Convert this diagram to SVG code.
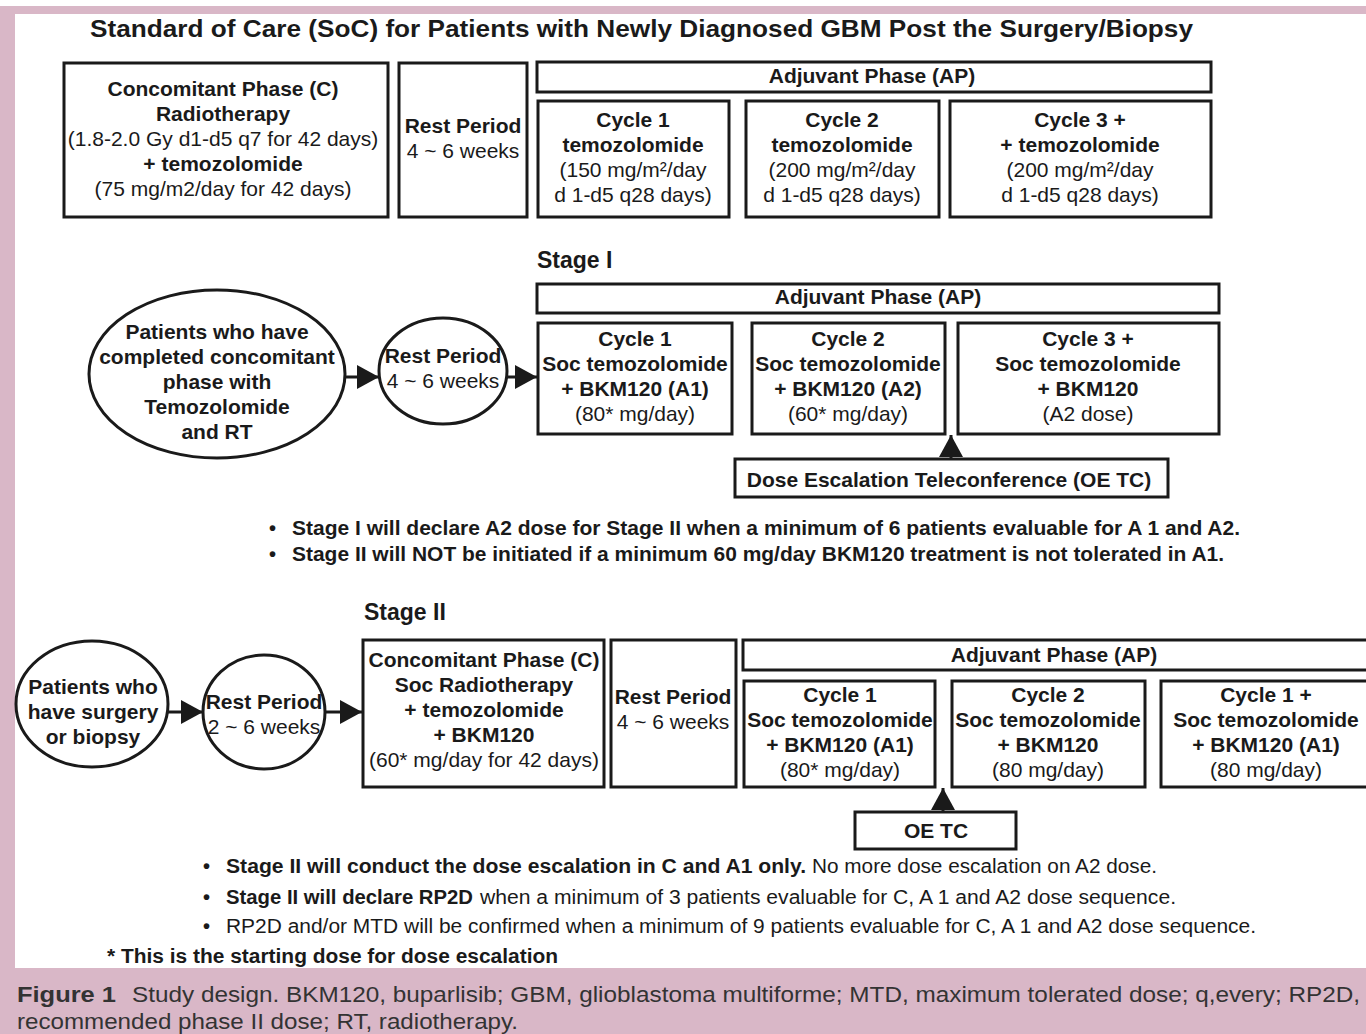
<svg xmlns="http://www.w3.org/2000/svg" width="1366" height="1034" viewBox="0 0 1366 1034">
<style>
text{font-family:"Liberation Sans",Arial,sans-serif;fill:#1a1a1a}
.b{font-weight:bold;font-size:21px;text-anchor:middle}
.r{font-size:21px;text-anchor:middle}
.box{fill:#fff;stroke:#1a1a1a;stroke-width:3}
.ell{fill:#fff;stroke:#1a1a1a;stroke-width:3}
.con{stroke:#1a1a1a;stroke-width:3;fill:none}
.bl{font-weight:bold;font-size:20px}
.rl{font-size:20px}
.cap{font-size:22px;fill:#333}
</style>
<defs>
<marker id="ah" viewBox="0 0 22 24" refX="22" refY="12" markerWidth="22" markerHeight="24" markerUnits="userSpaceOnUse" orient="auto">
<path d="M0,0 L22,12 L0,24 z" fill="#1a1a1a"/>
</marker>
</defs>
<rect x="0" y="0" width="1366" height="1034" fill="#d9b7c7"/>
<rect x="0" y="0" width="1366" height="6" fill="#fff"/>
<rect x="15" y="14" width="1351" height="954" fill="#fff"/>

<text x="90" y="37" font-weight="bold" font-size="24" textLength="1103" lengthAdjust="spacingAndGlyphs">Standard of Care (SoC) for Patients with Newly Diagnosed GBM Post the Surgery/Biopsy</text>

<g id="soc-concomitant">
<rect class="box" x="64" y="63" width="324" height="154"/>
<text class="b" x="223" y="96">Concomitant Phase (C)</text>
<text class="b" x="223" y="121">Radiotherapy</text>
<text class="r" x="223" y="146">(1.8-2.0 Gy d1-d5 q7 for 42 days)</text>
<text class="b" x="223" y="171">+ temozolomide</text>
<text class="r" x="223" y="196">(75 mg/m2/day for 42 days)</text>
</g>
<g id="soc-rest">
<rect class="box" x="399" y="63" width="128" height="154"/>
<text class="b" x="463" y="133">Rest Period</text>
<text class="r" x="463" y="158">4 ~ 6 weeks</text>
</g>
<g id="soc-ap">
<rect class="box" x="537" y="62" width="674" height="30"/>
<text class="b" x="872" y="83">Adjuvant Phase (AP)</text>
</g>
<g id="soc-cycle1">
<rect class="box" x="538" y="101" width="191" height="116"/>
<text class="b" x="633" y="127">Cycle 1</text>
<text class="b" x="633" y="152">temozolomide</text>
<text class="r" x="633" y="177">(150 mg/m²/day</text>
<text class="r" x="633" y="202">d 1-d5 q28 days)</text>
</g>
<g id="soc-cycle2">
<rect class="box" x="746" y="101" width="193" height="116"/>
<text class="b" x="842" y="127">Cycle 2</text>
<text class="b" x="842" y="152">temozolomide</text>
<text class="r" x="842" y="177">(200 mg/m²/day</text>
<text class="r" x="842" y="202">d 1-d5 q28 days)</text>
</g>
<g id="soc-cycle3">
<rect class="box" x="950" y="101" width="261" height="116"/>
<text class="b" x="1080" y="127">Cycle 3 +</text>
<text class="b" x="1080" y="152">+ temozolomide</text>
<text class="r" x="1080" y="177">(200 mg/m²/day</text>
<text class="r" x="1080" y="202">d 1-d5 q28 days)</text>
</g>

<text x="537" y="268" font-weight="bold" font-size="23">Stage I</text>

<g id="s1-patients">
<ellipse class="ell" cx="217" cy="374" rx="128" ry="84"/>
<text class="b" x="217" y="339">Patients who have</text>
<text class="b" x="217" y="364">completed concomitant</text>
<text class="b" x="217" y="389">phase with</text>
<text class="b" x="217" y="414">Temozolomide</text>
<text class="b" x="217" y="439">and RT</text>
</g>
<g id="s1-rest">
<ellipse class="ell" cx="443" cy="371" rx="64" ry="53"/>
<text class="b" x="443" y="363">Rest Period</text>
<text class="r" x="443" y="388">4 ~ 6 weeks</text>
</g>
<g id="s1-ap">
<rect class="box" x="537" y="284" width="682" height="29"/>
<text class="b" x="878" y="304">Adjuvant Phase (AP)</text>
</g>
<g id="s1-cycle1">
<rect class="box" x="538" y="323" width="194" height="111"/>
<text class="b" x="635" y="346">Cycle 1</text>
<text class="b" x="635" y="371">Soc temozolomide</text>
<text class="b" x="635" y="396">+ BKM120 (A1)</text>
<text class="r" x="635" y="421">(80* mg/day)</text>
</g>
<g id="s1-cycle2">
<rect class="box" x="752" y="323" width="193" height="111"/>
<text class="b" x="848" y="346">Cycle 2</text>
<text class="b" x="848" y="371">Soc temozolomide</text>
<text class="b" x="848" y="396">+ BKM120 (A2)</text>
<text class="r" x="848" y="421">(60* mg/day)</text>
</g>
<g id="s1-cycle3">
<rect class="box" x="958" y="323" width="261" height="111"/>
<text class="b" x="1088" y="346">Cycle 3 +</text>
<text class="b" x="1088" y="371">Soc temozolomide</text>
<text class="b" x="1088" y="396">+ BKM120</text>
<text class="r" x="1088" y="421">(A2 dose)</text>
</g>
<g id="s1-detc">
<rect class="box" x="735" y="459" width="433" height="38"/>
<text class="b" x="949" y="487">Dose Escalation Teleconference (OE TC)</text>
</g>

<text class="bl" x="269" y="535">•</text>
<text class="bl" x="292" y="535" textLength="948" lengthAdjust="spacingAndGlyphs">Stage I will declare A2 dose for Stage II when a minimum of 6 patients evaluable for A 1 and A2.</text>
<text class="bl" x="269" y="561">•</text>
<text class="bl" x="292" y="561" textLength="932" lengthAdjust="spacingAndGlyphs">Stage II will NOT be initiated if a minimum 60 mg/day BKM120 treatment is not tolerated in A1.</text>

<text x="364" y="620" font-weight="bold" font-size="23">Stage II</text>

<g id="s2-patients">
<ellipse class="ell" cx="92" cy="704" rx="76" ry="63"/>
<text class="b" x="93" y="694">Patients who</text>
<text class="b" x="93" y="719">have surgery</text>
<text class="b" x="93" y="744">or biopsy</text>
</g>
<g id="s2-rest">
<ellipse class="ell" cx="264" cy="712" rx="61" ry="57"/>
<text class="b" x="264" y="709">Rest Period</text>
<text class="r" x="264" y="734">2 ~ 6 weeks</text>
</g>
<g id="s2-concomitant">
<rect class="box" x="363" y="640" width="241" height="147"/>
<text class="b" x="484" y="667">Concomitant Phase (C)</text>
<text class="b" x="484" y="692">Soc Radiotherapy</text>
<text class="b" x="484" y="717">+ temozolomide</text>
<text class="b" x="484" y="742">+ BKM120</text>
<text class="r" x="484" y="767">(60* mg/day for 42 days)</text>
</g>
<g id="s2-rest2">
<rect class="box" x="611" y="640" width="125" height="147"/>
<text class="b" x="673" y="704">Rest Period</text>
<text class="r" x="673" y="729">4 ~ 6 weeks</text>
</g>
<g id="s2-ap">
<rect class="box" x="743" y="640" width="630" height="30"/>
<text class="b" x="1054" y="662">Adjuvant Phase (AP)</text>
</g>
<g id="s2-cycle1">
<rect class="box" x="744" y="681" width="191" height="106"/>
<text class="b" x="840" y="702">Cycle 1</text>
<text class="b" x="840" y="727">Soc temozolomide</text>
<text class="b" x="840" y="752">+ BKM120 (A1)</text>
<text class="r" x="840" y="777">(80* mg/day)</text>
</g>
<g id="s2-cycle2">
<rect class="box" x="952" y="681" width="193" height="106"/>
<text class="b" x="1048" y="702">Cycle 2</text>
<text class="b" x="1048" y="727">Soc temozolomide</text>
<text class="b" x="1048" y="752">+ BKM120</text>
<text class="r" x="1048" y="777">(80 mg/day)</text>
</g>
<g id="s2-cycle1plus">
<rect class="box" x="1161" y="681" width="212" height="106"/>
<text class="b" x="1266" y="702">Cycle 1 +</text>
<text class="b" x="1266" y="727">Soc temozolomide</text>
<text class="b" x="1266" y="752">+ BKM120 (A1)</text>
<text class="r" x="1266" y="777">(80 mg/day)</text>
</g>
<g id="s2-oetc">
<rect class="box" x="855" y="812" width="161" height="37"/>
<text class="b" x="936" y="838">OE TC</text>
</g>

<g id="connectors">
<line class="con" x1="345" y1="377" x2="379" y2="377" marker-end="url(#ah)"/>
<line class="con" x1="507" y1="377" x2="537" y2="377" marker-end="url(#ah)"/>
<line class="con" x1="951" y1="459" x2="951" y2="435" marker-end="url(#ah)"/>
<line class="con" x1="168" y1="712" x2="203" y2="712" marker-end="url(#ah)"/>
<line class="con" x1="325" y1="712" x2="362" y2="712" marker-end="url(#ah)"/>
<line class="con" x1="943" y1="812" x2="943" y2="788" marker-end="url(#ah)"/>
</g>

<text class="bl" x="203" y="873">•</text>
<text class="bl" x="226" y="873" textLength="580" lengthAdjust="spacingAndGlyphs">Stage II will conduct the dose escalation in C and A1 only.</text>
<text class="rl" x="812" y="873" textLength="345" lengthAdjust="spacingAndGlyphs">No more dose escalation on A2 dose.</text>
<text class="bl" x="203" y="904">•</text>
<text class="bl" x="226" y="904" textLength="247" lengthAdjust="spacingAndGlyphs">Stage II will declare RP2D</text>
<text class="rl" x="480" y="904" textLength="696" lengthAdjust="spacingAndGlyphs">when a minimum of 3 patients evaluable for C, A 1 and A2 dose sequence.</text>
<text class="bl" x="203" y="933">•</text>
<text class="rl" x="226" y="933" textLength="1030" lengthAdjust="spacingAndGlyphs">RP2D and/or MTD will be confirmed when a minimum of 9 patients evaluable for C, A 1 and A2 dose sequence.</text>
<text class="bl" x="107" y="963" textLength="451" lengthAdjust="spacingAndGlyphs">* This is the starting dose for dose escalation</text>

<text class="cap" x="17" y="1002" font-weight="bold" textLength="99" lengthAdjust="spacingAndGlyphs">Figure 1</text>
<text class="cap" x="132" y="1002" textLength="1228" lengthAdjust="spacingAndGlyphs">Study design. BKM120, buparlisib; GBM, glioblastoma multiforme; MTD, maximum tolerated dose; q,every; RP2D,</text>
<text class="cap" x="17" y="1029" textLength="501" lengthAdjust="spacingAndGlyphs">recommended phase II dose; RT, radiotherapy.</text>
</svg>
